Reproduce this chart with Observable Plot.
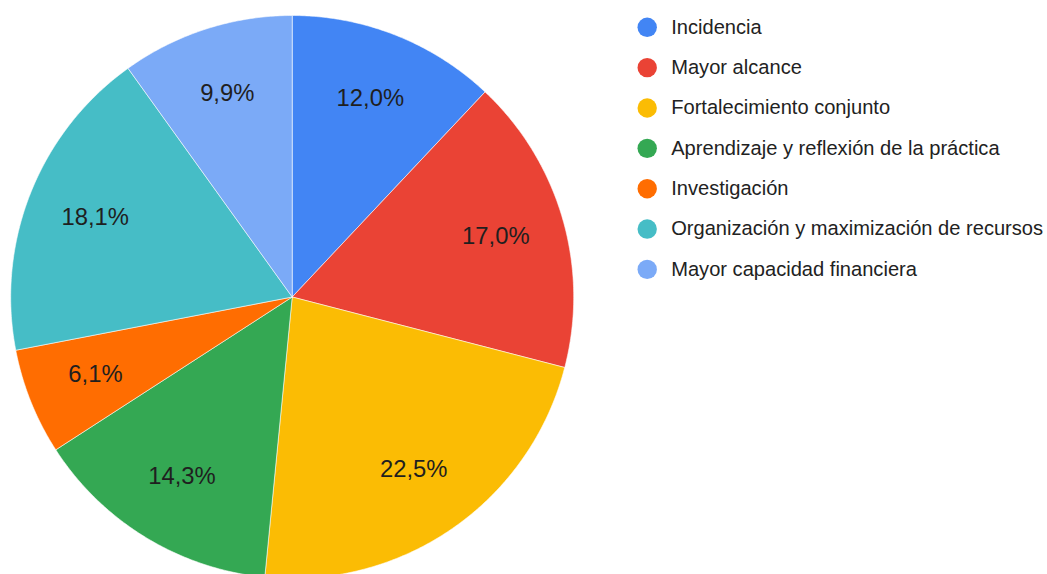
<!DOCTYPE html>
<html>
<head>
<meta charset="utf-8">
<script src="https://cdn.jsdelivr.net/npm/d3@7"></script>
<script src="https://cdn.jsdelivr.net/npm/@observablehq/plot@0.6"></script>
<style>
  html, body { margin: 0; padding: 0; background: #fff; }
  #chart svg { display: block; }
</style>
</head>
<body>
<div id="chart"></div>
<script>
const categories = [
  "Incidencia",
  "Mayor alcance",
  "Fortalecimiento conjunto",
  "Aprendizaje y reflexión de la práctica",
  "Investigación",
  "Organización y maximización de recursos",
  "Mayor capacidad financiera"
];
const values = [12.0, 17.0, 22.5, 14.3, 6.1, 18.1, 9.9];
const colors = ["#4285F4", "#EA4335", "#FBBC04", "#34A853", "#FF6D01", "#46BDC6", "#7BAAF7"];

const W = 1047, H = 574;
const cx = 291.7, cy = 296.5, R = 281.5, labelR = 212;
const fmt = v => v.toFixed(1).replace(".", ",") + "%";

const total = d3.sum(values);
const slicePts = [];
const labels = [];
let acc = 0;
categories.forEach((c, i) => {
  const a0 = acc / total * 2 * Math.PI;
  acc += values[i];
  const a1 = acc / total * 2 * Math.PI;
  slicePts.push({cat: c, x: cx, y: cy});
  const n = Math.max(2, Math.ceil((a1 - a0) / (Math.PI / 360)));
  for (let k = 0; k <= n; k++) {
    const a = a0 + (a1 - a0) * k / n;
    slicePts.push({cat: c, x: cx + R * Math.sin(a), y: cy - R * Math.cos(a)});
  }
  slicePts.push({cat: c, x: cx, y: cy});
  const am = (a0 + a1) / 2;
  labels.push({cat: c, x: cx + labelR * Math.sin(am), y: cy - labelR * Math.cos(am) - 1.5, text: fmt(values[i])});
});

const legend = categories.map((c, i) => ({cat: c, i}));
const legX = 646.7, legY0 = 26.8, legStep = 40.35;

const chart = Plot.plot({
  width: W,
  height: H,
  margin: 0,
  x: {type: "identity", axis: null},
  y: {type: "identity", axis: null},
  color: {domain: categories, range: colors},
  style: {fontFamily: "'Liberation Sans', Arial, sans-serif", background: "#fff"},
  marks: [
    Plot.line(slicePts, {x: "x", y: "y", z: "cat", fill: "cat", stroke: "#fff", strokeWidth: 0.7, strokeOpacity: 0.8, curve: "linear"}),
    Plot.text(labels, {x: "x", y: "y", text: "text", fontSize: 23.8, fill: "#1f1f1f", textAnchor: "middle", lineAnchor: "middle"}),
    Plot.dot(legend, {x: () => legX, y: d => legY0 + d.i * legStep, r: 9.7, fill: "cat"}),
    Plot.text(legend, {x: () => legX + 24, y: d => legY0 + d.i * legStep, text: "cat", fontSize: 20.1, fill: "#222", textAnchor: "start", lineAnchor: "middle"})
  ]
});
document.getElementById("chart").appendChild(chart);
</script>
</body>
</html>
